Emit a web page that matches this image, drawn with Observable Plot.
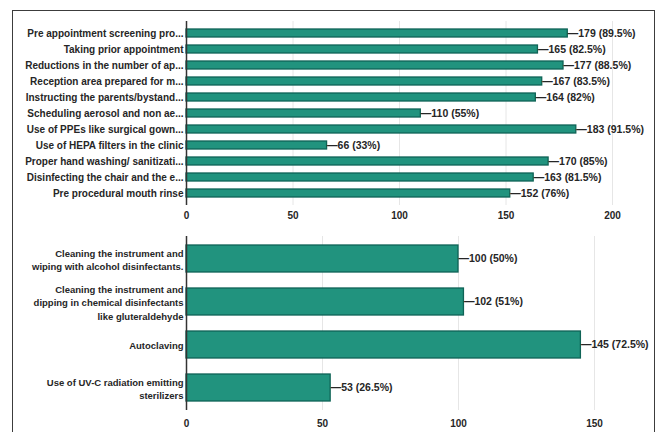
<!DOCTYPE html>
<html>
<head>
<meta charset="utf-8">
<script src="https://cdn.jsdelivr.net/npm/d3@7"></script>
<script src="https://cdn.jsdelivr.net/npm/@observablehq/plot@0.6"></script>
<style>
  html, body { margin: 0; padding: 0; background: #fff; }
  #wrap { position: relative; width: 661px; height: 432px; overflow: hidden; background: #fff; }
  #frame { position: absolute; left: 12px; top: 10px; width: 641px; height: 440px; border: 1.5px solid #3c3c3c; }
  #top, #bottom { position: absolute; left: 0; }
  #top { top: 0; }
  #bottom { top: 228px; }
  svg { font-family: "Liberation Sans", Arial, sans-serif; }
</style>
</head>
<body>
<div id="wrap">
  <div id="frame"></div>
  <div id="top"></div>
  <div id="bottom"></div>
</div>
<script>
// Practices followed during patient visits (count of 200 respondents)
const practices = [
  "Pre appointment screening pro...",
  "Taking prior appointment",
  "Reductions in the number of ap...",
  "Reception area prepared for m...",
  "Instructing the parents/bystand...",
  "Scheduling aerosol and non ae...",
  "Use of PPEs like surgical gown...",
  "Use of HEPA filters in the clinic",
  "Proper hand washing/ sanitizati...",
  "Disinfecting the chair and the e...",
  "Pre procedural mouth rinse"
];
const practiceCounts = [179, 165, 177, 167, 164, 110, 183, 66, 170, 163, 152];
const practicePercents = ["89.5", "82.5", "88.5", "83.5", "82", "55", "91.5", "33", "85", "81.5", "76"];
const practiceTicks = [0, 50, 100, 150, 200];

// Instrument sterilization methods
const methods = [
  "Cleaning the instrument and\nwiping with alcohol disinfectants.",
  "Cleaning the instrument and\ndipping in chemical disinfectants\nlike gluteraldehyde",
  "Autoclaving",
  "Use of UV-C radiation emitting\nsterilizers"
];
const methodCounts = [100, 102, 145, 53];
const methodPercents = ["50", "51", "72.5", "26.5"];
const methodTicks = [0, 50, 100, 150];

const barFill = "#21937e";
const barStroke = "#0f6356";
const ink = "#262626";

function rows(labels, counts, percents) {
  return labels.map((label, i) => ({label, count: counts[i], pct: percents[i]}));
}

function barChart({data, labels, ticks, xDomain, height, marginTop, marginBottom, marginRight, paddingInner, paddingOuter, tickPadding, lineHeight, labelSize}) {
  return Plot.plot({
    width: 661,
    height,
    marginLeft: 186,
    marginRight,
    marginTop,
    marginBottom,
    style: {fontFamily: "Liberation Sans, Arial, sans-serif", fontSize: "10px", fontWeight: "bold", color: ink, background: "transparent"},
    x: {domain: xDomain, ticks, label: null},
    y: {domain: labels, paddingInner, paddingOuter, label: null},
    marks: [
      Plot.ruleX(ticks.filter(t => t > 0), {stroke: "#e6e6e6", strokeWidth: 1}),
      Plot.barX(data, {y: "label", x: "count", fill: barFill, stroke: barStroke, strokeWidth: 1.3}),
      Plot.text(data, {
        y: "label", x: "count",
        text: d => `\u2014${d.count} (${d.pct}%)`,
        textAnchor: "start", dx: 0, fill: ink,
        fontSize: 10.5, fontWeight: "bold"
      }),
      Plot.ruleX([0], {stroke: "#333", strokeWidth: 1.5}),
      Plot.axisX({ticks, tickSize: 0, tickPadding, label: null, fill: ink}),
      Plot.axisY({tickSize: 0, tickPadding: 3, label: null, fill: ink, lineHeight, fontSize: labelSize, textOverflow: null})
    ]
  });
}

document.getElementById("top").append(barChart({
  data: rows(practices, practiceCounts, practicePercents),
  labels: practices,
  ticks: practiceTicks,
  xDomain: [0, 200],
  height: 228,
  marginTop: 21,
  marginBottom: 23,
  marginRight: 49,
  paddingInner: 0.5,
  paddingOuter: 0.24,
  tickPadding: 6,
  lineHeight: 1,
  labelSize: "10px"
}));

document.getElementById("bottom").append(barChart({
  data: rows(methods, methodCounts, methodPercents),
  labels: methods,
  ticks: methodTicks,
  xDomain: [0, 150],
  height: 204,
  marginTop: 8,
  marginBottom: 22,
  marginRight: 67,
  paddingInner: 0.37,
  paddingOuter: 0.18,
  tickPadding: 9,
  lineHeight: 1.42,
  labelSize: "9.5px"
}));
</script>
</body>
</html>
